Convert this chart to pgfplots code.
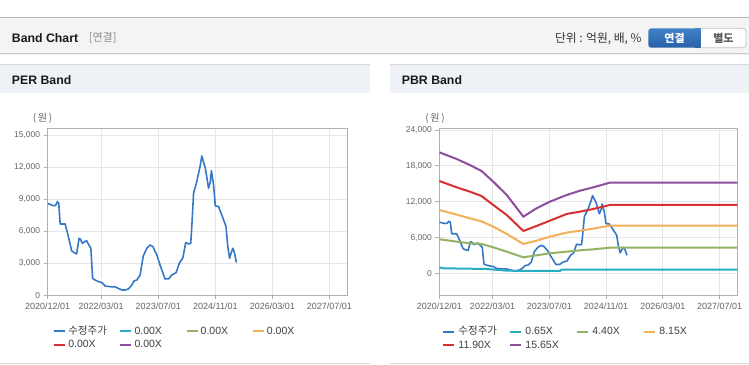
\documentclass[border=0pt]{standalone}
\usepackage{fontspec}
\setmainfont{Liberation Sans}
\newfontfamily\kr{Noto Sans CJK KR}
\usepackage{pgfplots}
\usepackage{pgfplotstable}
\pgfplotsset{compat=1.18}
\definecolor{cprice}{RGB}{54,120,200}
\definecolor{cteal}{RGB}{40,172,194}
\definecolor{cgreen}{RGB}{148,178,100}
\definecolor{corange}{RGB}{242,176,88}
\definecolor{cred}{RGB}{214,48,48}
\definecolor{cpurple}{RGB}{142,78,158}
\definecolor{cgrid}{RGB}{230,230,230}
\definecolor{cframe}{RGB}{176,176,176}
\definecolor{ctick}{RGB}{100,100,100}
\definecolor{hdrbg}{RGB}{244,244,244}
\definecolor{hdrtop}{RGB}{184,184,184}
\definecolor{hdrshadow}{RGB}{205,205,205}
\definecolor{panelbg}{RGB}{238,242,247}
\definecolor{panelline}{RGB}{216,216,216}
\definecolor{btntop}{RGB}{64,130,200}
\definecolor{btnbot}{RGB}{40,96,166}
\definecolor{btnborder}{RGB}{196,196,196}

\pgfplotstableread{
m v
0 8580
0.7 8510
1.5 8380
2.2 8400
2.7 8760
3.1 8600
3.5 6670
4.9 6670
5.8 5490
6.7 4180
7.4 3990
8.1 3870
8.8 5330
9.2 5240
9.7 4860
10.4 5020
10.9 5110
11.3 4860
12.1 4400
12.6 1590
13.3 1430
14.2 1280
15.2 1190
16.1 870
17.5 810
18.9 780
19.8 650
20.8 500
21.7 500
22.6 590
23.6 970
24.2 1340
25.0 1430
25.9 1900
26.8 3680
27.8 4400
28.7 4710
29.5 4550
30.6 3770
31.5 2840
32.5 1900
32.9 1530
33.9 1530
34.8 1900
36.0 2120
36.9 2990
37.9 3520
38.7 4930
39.5 4800
40.1 4860
40.4 6420
40.9 9540
41.8 10630
42.8 12190
43.2 13030
44.2 11880
45.1 10010
45.6 10630
45.9 11660
46.5 10320
47.0 8360
47.9 8300
48.8 7520
50.0 6420
50.5 4550
51.0 3460
51.4 3930
51.9 4400
52.4 3930
52.9 3060
}\price

\pgfplotstableread{
m purple red orange green
0 20270 15480 10630 5740
4.9 19150 14420 9860 5350
8.6 18150 13700 9240 5070
11.9 17150 12970 8740 4960
15.2 15370 11470 7850 4400
19.0 13140 9800 6630 3670
23.7 9520 7130 4960 2730
27.4 10910 7960 5510 3060
31.2 12030 8850 6180 3400
35.9 13140 9970 6850 3670
39.7 13860 10360 7180 3900
43.4 14420 10800 7520 4060
48.1 15200 11470 8020 4340
84 15200 11470 8020 4340
}\bands

\pgfplotstableread{
m v
0 1060
1.1 890
13.3 780
19.0 500
23.7 450
34.0 450
34.5 670
84 670
}\teal

\pgfplotsset{bandaxis/.style={
  scale only axis, height=167pt, xmin=0, xmax=84,
  scaled y ticks=false, scaled x ticks=false,
  xtick={0,15,31,47,63,79},
  xticklabels={2020/12/01,2022/03/01,2023/07/01,2024/11/01,2026/03/01,2027/07/01},
  grid=major, major grid style={cgrid, line width=0.8pt},
  axis line style={cframe, line width=0.8pt},
  tick style={cframe, line width=0.8pt}, tick align=outside, major tick length=4pt,
  xtick pos=bottom, ytick pos=left,
  xticklabel style={font=\fontsize{9}{10}\selectfont, text=ctick},
  yticklabel style={font=\fontsize{8.5}{10}\selectfont, text=ctick},
  legend cell align=left,
  legend columns=4,
  legend image code/.code={\draw[##1, line width=2pt] (0pt,0pt) -- (11pt,0pt); \path (14pt,0pt);},
  legend style={draw=none, fill=none, inner sep=0pt, column sep=0pt, row sep=2.8pt,
    anchor=north west, font=\fontsize{10.5}{12}\selectfont, text=black!75,
    nodes={inner sep=0pt, text width=51pt, text height=8pt, text depth=2.5pt}},
}}

\begin{document}
\begin{tikzpicture}
\begin{scope}[x=1pt,y=-1pt]
\path[use as bounding box, fill=white] (0,0) rectangle (749,364);
\fill[hdrbg] (0,18) rectangle (749,52.5);
\draw[hdrtop, line width=1.2pt] (0,17.6) -- (749,17.6);
\draw[hdrshadow, line width=1pt] (0,53) -- (749,53);
\draw[black!6, line width=1pt] (0,54) -- (749,54);
\fill[panelbg] (0,64) rectangle (370,92.7);
\fill[panelbg] (390,64) rectangle (749,92.7);
\draw[panelline, line width=0.8pt] (0,64) -- (370,64) (390,64) -- (749,64);
\draw[panelline, line width=0.8pt] (0,363) -- (370,363) (390,363) -- (749,363);
\node[anchor=west, inner sep=0pt, font=\bfseries\fontsize{12.3}{14}\selectfont, text=black!90] at (11.7,38.3) {Band Chart};
\node[anchor=west, inner sep=0pt, font=\kr\fontsize{11}{13}\selectfont, text=black!45] at (88.7,38.3) {[연결]};
\node[anchor=east, inner sep=0pt, font=\kr\fontsize{11.8}{13}\selectfont, text=black!80] at (641.7,38.3) {단위 : 억원, 배, \%};
\draw[btnborder, fill=white, rounded corners=3pt, line width=0.8pt] (695,28.3) rectangle (746,47.7);
\shade[top color=btntop, bottom color=btnbot, rounded corners=3pt] (648.3,28.3) rectangle (700.7,47.7);
\shade[top color=btntop, bottom color=btnbot] (695,28.3) rectangle (700.7,47.7);
\node[font=\kr\bfseries\fontsize{11}{13}\selectfont, text=white] at (674.5,38) {연결};
\node[font=\kr\bfseries\fontsize{11}{13}\selectfont, text=black!65] at (723.4,38) {별도};
\node[anchor=west, inner sep=0pt, font=\bfseries\fontsize{12.3}{14}\selectfont, text=black!90] at (11.7,80) {PER Band};
\node[anchor=west, inner sep=0pt, font=\bfseries\fontsize{12.3}{14}\selectfont, text=black!90] at (401.7,80) {PBR Band};
\node[font=\kr\fontsize{10}{12}\selectfont, text=ctick] at (42.5,118.3) {(\,원\,)};
\node[font=\kr\fontsize{10}{12}\selectfont, text=ctick] at (435,118.3) {(\,원\,)};
\end{scope}

\begin{axis}[bandaxis, at={(47.7pt,-295.3pt)}, anchor=south west, width=299.6pt,
  ymin=0, ymax=15620, ytick={0,3000,6000,9000,12000,15000},
  yticklabels={0,{3,000},{6,000},{9,000},{12,000},{15,000}},
  legend style={at={(0.0154,-0.183)}}]
\addplot[cprice, line width=1.6pt, line join=round] table[x=m,y=v] {\price};
\addlegendentry{\kr 수정주가}
\addlegendimage{cteal}\addlegendentry{0.00X}
\addlegendimage{cgreen}\addlegendentry{0.00X}
\addlegendimage{corange}\addlegendentry{0.00X}
\addlegendimage{cred}\addlegendentry{0.00X}
\addlegendimage{cpurple}\addlegendentry{0.00X}
\end{axis}

\begin{axis}[bandaxis, at={(439.3pt,-295.3pt)}, anchor=south west, width=298pt,
  ymin=-3620, ymax=24280, ytick={0,6000,12000,18000,24000},
  yticklabels={0,{6,000},{12,000},{18,000},{24,000}},
  legend style={at={(0.01,-0.188)}}]
\addplot[cprice, line width=1.6pt, line join=round] table[x=m,y=v] {\price};
\addlegendentry{\kr 수정주가}
\addplot[cteal, line width=2pt] table[x=m,y=v] {\teal};
\addlegendentry{0.65X}
\addplot[cgreen, line width=2pt] table[x=m,y=green] {\bands};
\addlegendentry{4.40X}
\addplot[corange, line width=2pt] table[x=m,y=orange] {\bands};
\addlegendentry{8.15X}
\addplot[cred, line width=2pt] table[x=m,y=red] {\bands};
\addlegendentry{11.90X}
\addplot[cpurple, line width=2pt] table[x=m,y=purple] {\bands};
\addlegendentry{15.65X}
\end{axis}
\end{tikzpicture}
\end{document}
